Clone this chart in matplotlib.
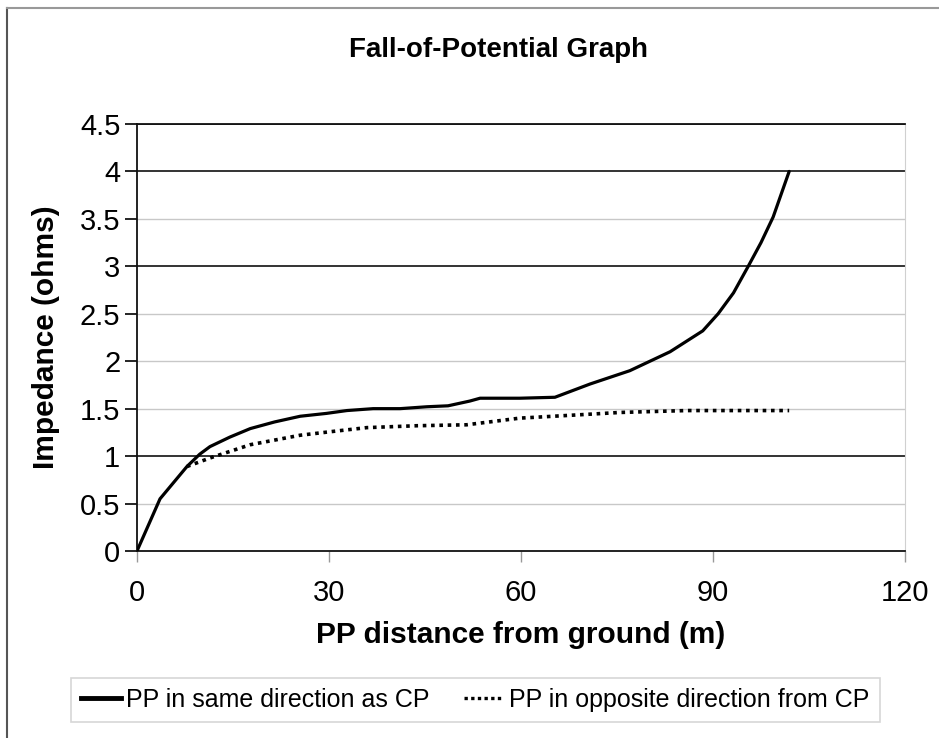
import matplotlib.pyplot as plt
from matplotlib.lines import Line2D

# data
same_x = [0, 3.6, 7.8, 9.8, 11.4, 14.5, 17.7, 21.5, 25.5, 29.6, 32.8, 36.9, 41.1, 45.3, 48.6,
          52.0, 53.6, 59.8, 65.3, 70.8, 77.0, 83.3, 88.4, 90.8, 93.2, 95.5, 97.5, 99.4, 101.9]
same_y = [0, 0.55, 0.89, 1.02, 1.1, 1.2, 1.29, 1.36, 1.42, 1.45, 1.48, 1.5, 1.5, 1.52, 1.53,
          1.58, 1.61, 1.61, 1.62, 1.76, 1.9, 2.1, 2.32, 2.5, 2.72, 3.0, 3.25, 3.52, 4.0]

opp_x = [7.8, 11.4, 17.7, 25.5, 30.6, 35.9, 43.7, 51.5, 59.8, 67.7, 75.5, 85.9, 101.9]
opp_y = [0.89, 0.98, 1.12, 1.22, 1.26, 1.3, 1.32, 1.33, 1.4, 1.43, 1.46, 1.48, 1.48]

y_ticks = [0, 0.5, 1, 1.5, 2, 2.5, 3, 3.5, 4, 4.5]
y_labels = ['0', '0.5', '1', '1.5', '2', '2.5', '3', '3.5', '4', '4.5']
x_ticks = [0, 30, 60, 90, 120]

plt.rcParams['font.family'] = ['Liberation Sans', 'DejaVu Sans']

fig = plt.figure(figsize=(9.39, 7.38), dpi=100)
ax = fig.add_axes([0.1459, 0.2534, 0.8179, 0.5786])

# grid lines: dark on whole numbers, light on halves (as in the scan)
for v in y_ticks[1:]:
    dark = v in (1, 3, 4, 4.5)
    ax.axhline(v, color='#111111' if dark else '#c8c8c8',
               lw=1.2 if dark else 1.0, zorder=1)

ax.plot(same_x, same_y, color='black', lw=2.3, solid_joinstyle='round',
        solid_capstyle='round', zorder=3)
ax.plot(opp_x, opp_y, color='black', lw=2.6, linestyle=(0, (1, 1.3)), zorder=3)

ax.set_xlim(0, 120)
ax.set_ylim(0, 4.5)
ax.set_xticks(x_ticks)
ax.set_yticks(y_ticks)
ax.set_yticklabels(y_labels)
ax.tick_params(axis='y', direction='out', length=9, width=1.2, labelsize=21, pad=3)
ax.tick_params(axis='x', direction='out', length=8, width=1.0, color='#999999',
               labelsize=21, pad=12)

for s in ('left', 'bottom', 'top'):
    ax.spines[s].set_color('#111111')
    ax.spines[s].set_linewidth(1.3)
ax.spines['right'].set_color('#d0d0d0')

fig.text(0.531, 0.932, 'Fall-of-Potential Graph', fontsize=20, fontweight='bold',
         ha='center', va='center')
ax.set_ylabel('Impedance (ohms)', fontsize=21.5, fontweight='bold', labelpad=14)
ax.set_xlabel('PP distance from ground (m)', fontsize=21.5, fontweight='bold', labelpad=10)

# outer frame of the chart area (only top and left edges visible)
fig.add_artist(Line2D([0.0075, 0.0075], [0, 0.989], transform=fig.transFigure,
                      color='#555555', lw=1.5))
fig.add_artist(Line2D([0.0075, 1.0], [0.989, 0.989], transform=fig.transFigure,
                      color='#999999', lw=1.5))

handles = [Line2D([], [], color='black', lw=3.5),
           Line2D([], [], color='black', lw=2.4, linestyle=(0, (1, 1)))]
leg = fig.legend(handles, ['PP in same direction as CP', 'PP in opposite direction from CP'],
                 loc='center', bbox_to_anchor=(0.506, 0.0515), ncol=2, fontsize=18,
                 frameon=True, fancybox=False, handlelength=1.6, handletextpad=0.2,
                 columnspacing=1.4, borderpad=0.4, borderaxespad=0)
leg.get_frame().set_edgecolor('#cccccc')
leg.get_frame().set_linewidth(1.2)

fig.savefig('out.png', dpi=100)
